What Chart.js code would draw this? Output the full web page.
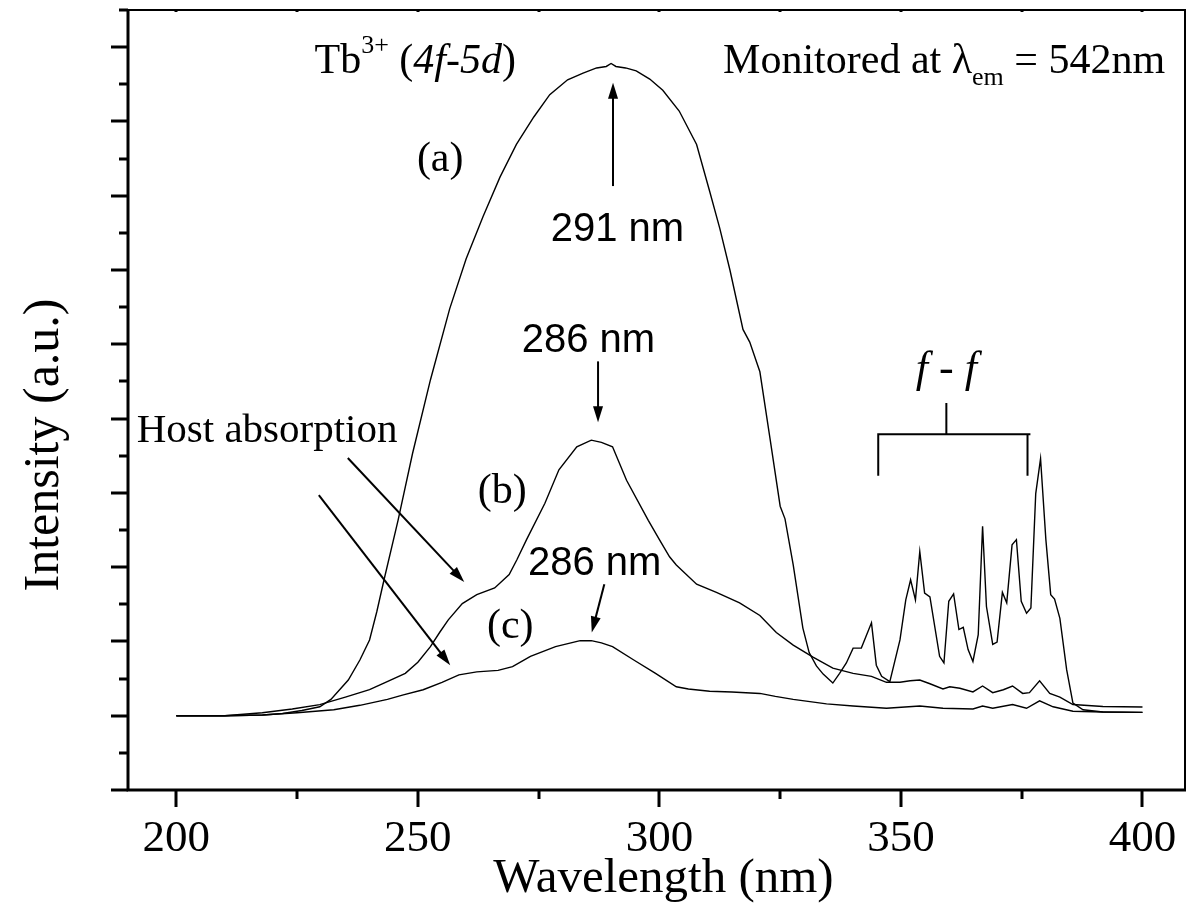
<!DOCTYPE html>
<html>
<head>
<meta charset="utf-8">
<script src="https://cdn.jsdelivr.net/npm/chart.js@4.4.0/dist/chart.umd.min.js"></script>
<style>
  html, body { margin: 0; padding: 0; background: #fff; }
</style>
</head>
<body>
<canvas id="spec" width="1191" height="914"></canvas>
<script>
// excitation spectra, wavelength in nm, intensity in arbitrary units
const waveA = [200, 210, 218, 222, 226, 229.7, 232, 235.6, 238, 240, 241.5, 243, 245.9, 248.9, 252.6, 256.6, 260, 263.5, 267, 270.4, 274, 277.3, 281, 284.2, 287, 289, 290, 291, 293, 295.2, 298, 300.7, 304.1, 307.7, 310.4, 312.5, 314.6, 317.3, 318.7, 320.8, 322.9, 325, 326, 327.7, 329.7, 331, 332.5, 333.9, 335.9, 337.3, 338.7, 340.1, 341.8, 343.9, 344.9, 346, 347.7, 349.8, 351, 352, 353, 353.9, 354.9, 356, 358, 358.9, 359.9, 360.9, 362, 362.9, 363.9, 364.9, 366, 366.9, 367.7, 369, 369.9, 371, 371.9, 373, 373.9, 374.9, 376, 376.9, 377.9, 378.9, 380, 381, 381.8, 382.9, 384.3, 385.6, 387.7, 391.8, 400];
const intA  = [0, 0, 0.01, 0.03, 0.07, 0.12, 0.22, 0.48, 0.75, 1.02, 1.4, 1.83, 2.63, 3.53, 4.52, 5.48, 6.15, 6.72, 7.25, 7.69, 8.06, 8.36, 8.56, 8.65, 8.72, 8.74, 8.78, 8.74, 8.72, 8.68, 8.57, 8.42, 8.14, 7.69, 7.06, 6.56, 6.0, 5.2, 5.03, 4.63, 3.73, 2.82, 2.65, 2.03, 1.18, 0.85, 0.67, 0.56, 0.44, 0.57, 0.71, 0.91, 0.91, 1.25, 0.68, 0.53, 0.46, 1.02, 1.56, 1.83, 1.56, 2.21, 1.65, 1.6, 0.8, 0.71, 1.54, 1.64, 1.16, 1.19, 0.89, 0.73, 1.09, 2.55, 1.47, 0.96, 0.99, 1.66, 1.52, 2.3, 2.37, 1.54, 1.38, 1.45, 2.99, 3.46, 2.37, 1.63, 1.57, 1.31, 0.62, 0.17, 0.08, 0.05, 0.045];

const waveB = [200, 210, 217.8, 224, 229.7, 235, 240, 244, 247.4, 250, 252.6, 254.5, 256.3, 259.2, 262.2, 265.9, 268.9, 270.5, 272.5, 276.3, 279.2, 282.9, 285.9, 288, 290.3, 293.2, 297.7, 300, 302.1, 303.5, 307.7, 311.8, 316.6, 320.8, 324.2, 327.7, 331.8, 335.9, 340.1, 343.9, 347, 349.8, 351.9, 353.9, 356, 358.7, 360.1, 362.2, 364.9, 366.9, 369, 371.2, 373.1, 375.2, 376.6, 378.7, 380.8, 382.9, 385.6, 391.8, 400];
const intB  = [0, 0, 0.04, 0.09, 0.15, 0.25, 0.35, 0.47, 0.57, 0.72, 0.93, 1.12, 1.29, 1.51, 1.63, 1.72, 1.9, 2.1, 2.37, 2.86, 3.31, 3.62, 3.71, 3.68, 3.62, 3.17, 2.63, 2.37, 2.14, 2.03, 1.77, 1.66, 1.52, 1.35, 1.12, 0.95, 0.79, 0.64, 0.57, 0.53, 0.45, 0.45, 0.47, 0.48, 0.43, 0.36, 0.39, 0.37, 0.32, 0.40, 0.31, 0.35, 0.40, 0.30, 0.31, 0.47, 0.30, 0.25, 0.15, 0.125, 0.117];

const waveC = [200, 210, 217.8, 225, 232.6, 238, 243.7, 247, 251.1, 255, 258.5, 262.2, 266.6, 269.6, 273.3, 278.5, 283.6, 285.9, 288, 290.3, 294.7, 299.2, 303.5, 306, 310.4, 315, 320.8, 324, 327.7, 334.6, 340.1, 347, 353.9, 358.7, 364.9, 366.9, 369, 373.1, 376, 378.7, 381.5, 385.6, 391.8, 400];
const intC  = [0, 0, 0.01, 0.04, 0.08, 0.14, 0.22, 0.28, 0.35, 0.45, 0.55, 0.59, 0.61, 0.66, 0.80, 0.93, 1.01, 1.01, 0.98, 0.93, 0.75, 0.57, 0.39, 0.36, 0.33, 0.32, 0.30, 0.26, 0.22, 0.16, 0.13, 0.10, 0.13, 0.10, 0.09, 0.13, 0.10, 0.15, 0.10, 0.20, 0.12, 0.06, 0.05, 0.045];

const xTicks = [200, 250, 300, 350, 400];

const SERIF = '"Liberation Serif", "Times New Roman", serif';
const SANS = '"Liberation Sans", Arial, sans-serif';

const toPoints = (xs, ys) => xs.map((x, i) => ({ x: x, y: ys[i] }));

// annotations in data units (nm, a.u.)
const labels = [
  { text: '(a)', x: 249.8, y: 7.33, font: '42px ' + SERIF },
  { text: '291 nm', x: 277.5, y: 6.39, font: '40px ' + SANS },
  { text: '286 nm', x: 271.5, y: 4.90, font: '40px ' + SANS },
  { text: '(b)', x: 262.4, y: 2.86, font: '42px ' + SERIF },
  { text: '286 nm', x: 272.8, y: 1.89, font: '40px ' + SANS },
  { text: '(c)', x: 264.3, y: 1.05, font: '42px ' + SERIF },
  { text: 'Host absorption', x: 191.8, y: 3.68, font: '41px ' + SERIF },
  { text: 'f - f', x: 359.4, y: 4.49, font: 'italic 44px ' + SERIF, align: 'center' }
];
const arrows = [
  [290.4, 7.13, 290.4, 8.52],
  [287.3, 4.77, 287.3, 3.95],
  [288.6, 1.77, 286.0, 1.12],
  [235.5, 3.47, 259.6, 1.80],
  [229.5, 2.97, 256.7, 0.68]
];

function drawRich(ctx, segs, x, y, align) {
  let w = 0;
  segs.forEach(s => { ctx.font = s.f; w += ctx.measureText(s.t).width; });
  let cx = align === 'right' ? x - w : x;
  segs.forEach(s => {
    ctx.font = s.f;
    ctx.fillText(s.t, cx, y + (s.dy || 0));
    cx += ctx.measureText(s.t).width;
  });
}

function arrow(ctx, x1, y1, x2, y2) {
  const ang = Math.atan2(y2 - y1, x2 - x1);
  const hl = 16, hw = 5;
  ctx.lineWidth = 2;
  ctx.beginPath();
  ctx.moveTo(x1, y1);
  ctx.lineTo(x2 - Math.cos(ang) * hl * 0.8, y2 - Math.sin(ang) * hl * 0.8);
  ctx.stroke();
  ctx.beginPath();
  ctx.moveTo(x2, y2);
  ctx.lineTo(x2 - Math.cos(ang) * hl - Math.sin(ang) * hw, y2 - Math.sin(ang) * hl + Math.cos(ang) * hw);
  ctx.lineTo(x2 - Math.cos(ang) * hl + Math.sin(ang) * hw, y2 - Math.sin(ang) * hl - Math.cos(ang) * hw);
  ctx.closePath();
  ctx.fill();
}

const decorations = {
  id: 'decorations',
  afterDraw(chart) {
    const { ctx, chartArea: a, scales: { x, y } } = chart;
    const px = v => x.getPixelForValue(v);
    const py = v => y.getPixelForValue(v);
    ctx.save();
    ctx.strokeStyle = '#000';
    ctx.fillStyle = '#000';
    ctx.lineCap = 'butt';

    // frame
    ctx.lineWidth = 2;
    ctx.strokeRect(a.left, a.top, a.right - a.left, a.bottom - a.top);
    ctx.lineWidth = 3;
    ctx.beginPath();
    ctx.moveTo(a.left, a.top - 1);
    ctx.lineTo(a.left, a.bottom);
    ctx.lineTo(a.right + 1, a.bottom);
    ctx.stroke();

    // x ticks, outward, minor every 25 nm
    for (let v = 200; v <= 400; v += 25) {
      const xp = Math.round(px(v));
      const len = v % 50 === 0 ? 17 : 9;
      ctx.beginPath();
      ctx.moveTo(xp, a.bottom);
      ctx.lineTo(xp, a.bottom + len);
      ctx.stroke();
      ctx.beginPath();
      ctx.moveTo(xp, a.top);
      ctx.lineTo(xp, a.top + 2);
      ctx.stroke();
    }
    // y ticks, outward, minor every 0.5
    for (let v = -1; v <= 9.5; v += 0.5) {
      const yp = Math.round(py(v));
      const len = Number.isInteger(v) ? 17 : 9;
      ctx.beginPath();
      ctx.moveTo(a.left, yp);
      ctx.lineTo(a.left - len, yp);
      ctx.stroke();
    }

    // axis titles
    ctx.textBaseline = 'alphabetic';
    ctx.textAlign = 'center';
    ctx.font = '49px ' + SERIF;
    ctx.fillText('Wavelength (nm)', (a.left + a.right) / 2 + 7, a.bottom + 102);
    ctx.font = '50px ' + SERIF;
    ctx.save();
    ctx.translate(58, (a.top + a.bottom) / 2 + 45);
    ctx.rotate(-Math.PI / 2);
    ctx.fillText('Intensity (a.u.)', 0, 0);
    ctx.restore();

    // text annotations
    labels.forEach(l => {
      ctx.font = l.font;
      ctx.textAlign = l.align || 'left';
      ctx.fillText(l.text, px(l.x), py(l.y));
    });
    ctx.textAlign = 'left';
    drawRich(ctx, [
      { t: 'Tb', f: '42px ' + SERIF },
      { t: '3+', f: '26px ' + SERIF, dy: -20 },
      { t: ' (', f: '42px ' + SERIF },
      { t: '4f-5d', f: 'italic 42px ' + SERIF },
      { t: ')', f: '42px ' + SERIF }
    ], px(228.6), py(8.65), 'left');
    drawRich(ctx, [
      { t: 'Monitored at \u03bb', f: '42px ' + SERIF },
      { t: 'em', f: '26px ' + SERIF, dy: 12 },
      { t: ' = 542nm', f: '42px ' + SERIF }
    ], px(404.7), py(8.65), 'right');

    // arrows
    arrows.forEach(r => arrow(ctx, px(r[0]), py(r[1]), px(r[2]), py(r[3])));

    // f-f bracket
    ctx.lineWidth = 2;
    ctx.beginPath();
    ctx.moveTo(px(345.3), py(3.23));
    ctx.lineTo(px(345.3), py(3.79));
    ctx.lineTo(px(376.8), py(3.79));
    ctx.moveTo(px(376.2), py(3.79));
    ctx.lineTo(px(376.2), py(3.23));
    ctx.moveTo(px(359.4), py(3.79));
    ctx.lineTo(px(359.4), py(4.21));
    ctx.stroke();

    ctx.restore();
  }
};

const lineStyle = { borderColor: '#000', borderWidth: 1.4, pointRadius: 0, tension: 0, fill: false };

new Chart(document.getElementById('spec'), {
  type: 'line',
  data: {
    datasets: [
      Object.assign({ label: '(a)', data: toPoints(waveA, intA) }, lineStyle),
      Object.assign({ label: '(b)', data: toPoints(waveB, intB) }, lineStyle),
      Object.assign({ label: '(c)', data: toPoints(waveC, intC) }, lineStyle)
    ]
  },
  options: {
    responsive: false,
    animation: false,
    devicePixelRatio: 1,
    layout: { padding: { top: 10, right: 6, left: 0, bottom: 0 } },
    plugins: { legend: { display: false }, tooltip: { enabled: false } },
    scales: {
      x: {
        type: 'linear',
        min: 190,
        max: 408.8,
        afterBuildTicks: s => { s.ticks = xTicks.map(v => ({ value: v })); },
        afterFit: s => { s.height = 124; s.paddingLeft = 0; s.paddingRight = 0; },
        grid: { display: false, drawTicks: false },
        border: { display: false },
        ticks: {
          color: '#000',
          padding: 22,
          maxRotation: 0,
          font: { family: SERIF, size: 45 }
        }
      },
      y: {
        type: 'linear',
        min: -1,
        max: 9.5,
        afterFit: s => { s.width = 128; s.paddingTop = 0; s.paddingBottom = 0; },
        grid: { display: false, drawTicks: false },
        border: { display: false },
        ticks: { display: false }
      }
    }
  },
  plugins: [decorations]
});
</script>
</body>
</html>
